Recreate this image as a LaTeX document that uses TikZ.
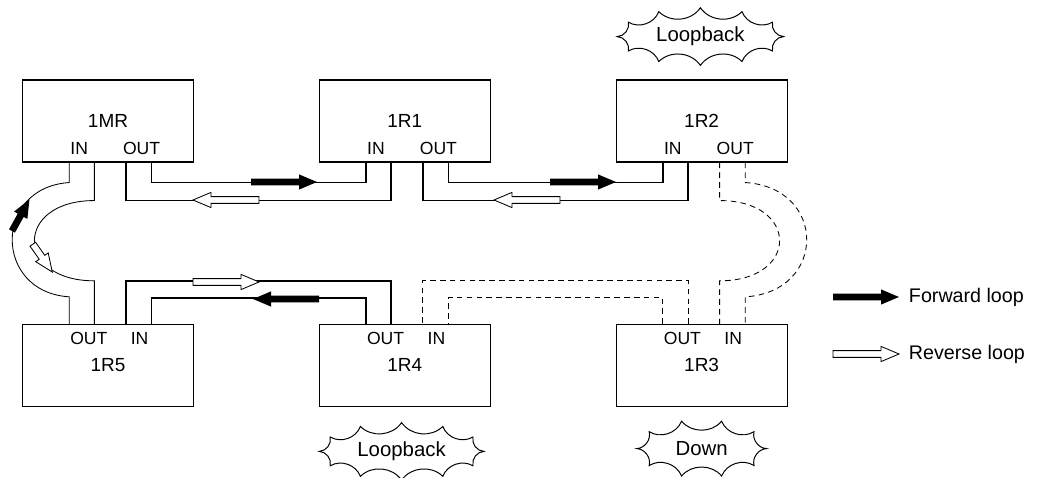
\documentclass[tikz,border=0pt]{standalone}
\usepackage{fontspec}
\setmainfont{Liberation Sans}
\usetikzlibrary{calc}

\tikzset{
	unit/.style={shape=rectangle, draw, line width=0.8pt, minimum width=4.275cm, minimum height=2.05cm, font=\fontsize{13.5}{15}\selectfont},
	port/.style={anchor=center, inner sep=0pt, font=\fontsize{12.5}{14}\selectfont},
	note/.style={anchor=center, font=\fontsize{14.5}{16}\selectfont},
	wire/.style={line width=1.2pt},
	bend wire/.style={line width=0.6pt},
	down wire/.style={line width=0.6pt, dash pattern=on 4pt off 3pt},
	burst/.style={line width=0.7pt},
	arrowlen/.store in=\arrowlen, arrowlen=1.65,
	fwd arrow/.pic={\fill (0,-0.085) -- ({\arrowlen-0.45},-0.085) -- ({\arrowlen-0.45},-0.19) -- (\arrowlen,0) -- ({\arrowlen-0.45},0.19) -- ({\arrowlen-0.45},0.085) -- (0,0.085) -- cycle;},
	rev arrow/.pic={\filldraw[fill=white, line width=0.6pt] (0,-0.085) -- ({\arrowlen-0.45},-0.085) -- ({\arrowlen-0.45},-0.19) -- (\arrowlen,0) -- ({\arrowlen-0.45},0.19) -- ({\arrowlen-0.45},0.085) -- (0,0.085) -- cycle;},
}
% wavy outline round a note: node, x radius, y radius, number of points
\newcommand{\wavy}[4]{\draw[burst] ($(#1)+(0:#2 and #3)$) \foreach \a in {1,...,#4}{ to[bend left=50] ($(#1)+({\a*360/#4}:#2 and #3)$) } -- cycle;}

\begin{document}
\begin{tikzpicture}
	\useasboundingbox (0,0) rectangle (26.05,11.925);
	% Units:
	\node[unit] (mr) at (2.7,8.9) {1MR};
	\node[unit] (r1) at (10.12,8.9) {1R1};
	\node[unit] (r2) at (17.54,8.9) {1R2};
	\node[unit] (r5) at (2.7,2.79) {1R5};
	\node[unit] (r4) at (10.12,2.79) {1R4};
	\node[unit] (r3) at (17.54,2.79) {1R3};
	\node[port] (mr-in) at ($(mr)+(-0.72,-0.675)$) {IN};
	\node[port] (mr-out) at ($(mr)+(0.84,-0.675)$) {OUT};
	\node[port] (r1-in) at ($(r1)+(-0.72,-0.675)$) {IN};
	\node[port] (r1-out) at ($(r1)+(0.84,-0.675)$) {OUT};
	\node[port] (r2-in) at ($(r2)+(-0.72,-0.675)$) {IN};
	\node[port] (r2-out) at ($(r2)+(0.84,-0.675)$) {OUT};
	\node[port] (r5-out) at ($(r5)+(-0.48,0.685)$) {OUT};
	\node[port] (r5-in) at ($(r5)+(0.79,0.685)$) {IN};
	\node[port] (r4-out) at ($(r4)+(-0.48,0.685)$) {OUT};
	\node[port] (r4-in) at ($(r4)+(0.79,0.685)$) {IN};
	\node[port] (r3-out) at ($(r3)+(-0.48,0.685)$) {OUT};
	\node[port] (r3-in) at ($(r3)+(0.79,0.685)$) {IN};
	% Wires:
	\draw[wire] ([xshift=1.09cm]mr.south) -- ++(0,-0.5) -| ([xshift=-0.97cm]r1.south);
	\draw[wire] ([xshift=-0.34cm]r1.south) -- ++(0,-0.95) -| ([xshift=0.45cm]mr.south);
	\draw[wire] ([xshift=1.09cm]r1.south) -- ++(0,-0.5) -| ([xshift=-0.97cm]r2.south);
	\draw[wire] ([xshift=-0.34cm]r2.south) -- ++(0,-0.95) -| ([xshift=0.45cm]r1.south);
	\draw[wire] ([xshift=-0.34cm]r4.north) -- ++(0,1.075) -| ([xshift=0.45cm]r5.north);
	\draw[wire] ([xshift=-0.97cm]r4.north) -- ++(0,0.65) -| ([xshift=1.09cm]r5.north);
	\draw[down wire] ([xshift=-0.34cm]r3.north) -- ++(0,1.075) -| ([xshift=0.45cm]r4.north);
	\draw[down wire] ([xshift=-0.97cm]r3.north) -- ++(0,0.65) -| ([xshift=1.09cm]r4.north);
	% Loops round the ends:
	\draw[bend wire] ([xshift=-0.97cm]mr.south) -- ++(0,-0.5) .. controls +(-1.9,-0.12) and +(-1.9,0.12) .. ([xshift=-0.97cm,yshift=0.675cm]r5.north) -- ([xshift=-0.97cm]r5.north);
	\draw[bend wire] ([xshift=-0.34cm]mr.south) -- ++(0,-0.95) .. controls +(-2,0) and +(-2,0) .. ([xshift=-0.34cm,yshift=1.075cm]r5.north) -- ([xshift=-0.34cm]r5.north);
	\draw[down wire] ([xshift=1.09cm]r2.south) -- ++(0,-0.5) .. controls +(2.05,-0.12) and +(2.05,0.12) .. ([xshift=1.09cm,yshift=0.675cm]r3.north) -- ([xshift=1.09cm]r3.north);
	\draw[down wire] ([xshift=0.45cm]r2.south) -- ++(0,-0.95) .. controls +(2,0) and +(2,0) .. ([xshift=0.45cm,yshift=1.075cm]r3.north) -- ([xshift=0.45cm]r3.north);
	% Arrows:
	\pic at (6.275,7.375) {fwd arrow};
	\pic[rotate=180] at (6.475,6.925) {rev arrow};
	\pic at (13.75,7.375) {fwd arrow};
	\pic[rotate=180] at (14.0,6.925) {rev arrow};
	\pic at (4.825,4.875) {rev arrow};
	\pic[rotate=180] at (7.975,4.45) {fwd arrow};
	\pic[rotate=61, arrowlen=0.9] at (0.3,6.15) {fwd arrow};
	\pic[rotate=-55, arrowlen=0.85] at (0.82,5.82) {rev arrow};
	% Notes:
	\node[note] (lb-top) at (17.51,11.01) {Loopback};
	\node[note] (lb-bot) at (10.04,0.64) {Loopback};
	\node[note] (dn) at (17.54,0.71) {Down};
	\wavy{lb-top}{2.08}{0.72}{12}
	\wavy{lb-bot}{2.06}{0.72}{12}
	\wavy{dn}{1.62}{0.72}{10}
	% Legend:
	\pic at (20.825,4.5) {fwd arrow};
	\pic at (20.825,3.075) {rev arrow};
	\node[note, anchor=west, font=\fontsize{14}{16}\selectfont] (fwd-key) at (22.6,4.5) {Forward loop};
	\node[note, anchor=west, font=\fontsize{14}{16}\selectfont] (rev-key) at (22.6,3.075) {Reverse loop};
\end{tikzpicture}
\end{document}
